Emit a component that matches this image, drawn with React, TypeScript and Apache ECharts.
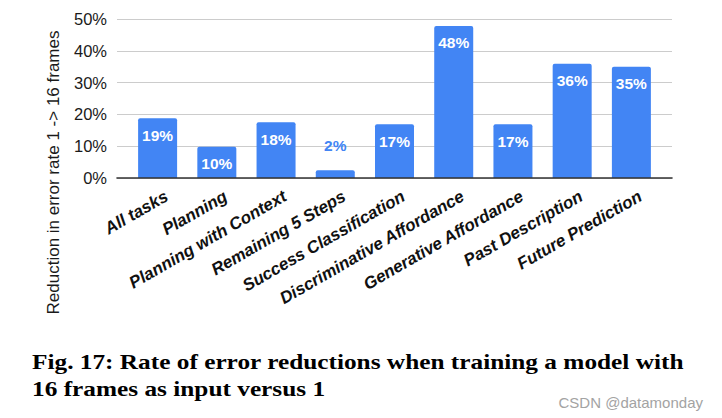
import React, { useEffect, useRef } from "react";
import * as echarts from "echarts";

const categories = [
  "All tasks",
  "Planning",
  "Planning with Context",
  "Remaining 5 Steps",
  "Success Classification",
  "Discriminative Affordance",
  "Generative Affordance",
  "Past Description",
  "Future Prediction",
];
const reductions = [18.8, 9.8, 17.5, 2.4, 16.9, 47.8, 16.9, 35.9, 35.0];
const yTicks = [0, 10, 20, 30, 40, 50];
const yTitle = "Reduction in error rate 1 -> 16 frames";
const captionLine1 = "Fig. 17: Rate of error reductions when training a model with";
const captionLine2 = "16 frames as input versus 1";
const watermark = "CSDN @datamonday";

const BLUE = "#4285F4";
const SANS = "'Liberation Sans', Arial, sans-serif";
const SERIF = "'Liberation Serif', 'Times New Roman', serif";

export default function App() {
  const ref = useRef<HTMLDivElement>(null);
  useEffect(() => {
    document.body.style.margin = "0";
    const chart = echarts.init(ref.current!, null, { renderer: "svg" });
    const yMin = yTicks[0];
    const yMax = yTicks[yTicks.length - 1];
    const yInt = yTicks[1] - yTicks[0];
    chart.setOption({
      animation: false,
      backgroundColor: "#ffffff",
      grid: [
        { left: 117, right: 50, top: 19, bottom: 240 },
        { left: 128, right: 61, top: 19, bottom: 240 },
        { left: 137, right: 52, top: 19, bottom: 240 },
      ],
      xAxis: [
        {
          type: "category",
          gridIndex: 0,
          data: [""],
          z: 5,
          axisLine: { show: true, lineStyle: { color: "#333333", width: 1.6 } },
          axisTick: { show: false },
          axisLabel: { show: false },
        },
        {
          type: "category",
          gridIndex: 1,
          data: categories,
          axisLine: { show: false },
          axisTick: { show: false },
          axisLabel: { show: false },
        },
        {
          type: "category",
          gridIndex: 2,
          data: categories,
          axisLine: { show: false },
          axisTick: { show: false },
          axisLabel: {
            rotate: 30,
            interval: 0,
            margin: 17,
            fontSize: 17,
            fontWeight: "bold",
            fontStyle: "italic",
            fontFamily: SANS,
            color: "#111111",
          },
        },
      ],
      yAxis: [
        {
          type: "value",
          gridIndex: 0,
          min: yMin,
          max: yMax,
          interval: yInt,
          axisLine: { show: false },
          axisTick: { show: false },
          axisLabel: {
            formatter: "{value}%",
            fontSize: 16.5,
            fontFamily: SANS,
            color: "#1a1a1a",
            margin: 10,
          },
          splitLine: { lineStyle: { color: "#cccccc", width: 1 } },
        },
        {
          type: "value",
          gridIndex: 1,
          min: yMin,
          max: yMax,
          interval: yInt,
          show: false,
          splitLine: { show: false },
        },
        {
          type: "value",
          gridIndex: 2,
          min: yMin,
          max: yMax,
          interval: yInt,
          show: false,
          splitLine: { show: false },
        },
      ],
      series: [
        {
          type: "bar",
          xAxisIndex: 1,
          yAxisIndex: 1,
          barWidth: 39,
          itemStyle: { color: BLUE, borderRadius: [2, 2, 0, 0] },
          data: reductions.map((v) => {
            const small = v < 5;
            return {
              value: v,
              label: {
                show: true,
                position: small ? "top" : "insideTop",
                distance: small ? 17 : 9,
                formatter: () => Math.round(v) + "%",
                color: small ? BLUE : "#ffffff",
                fontSize: 15.5,
                fontWeight: "bold",
                fontFamily: SANS,
              },
            };
          }),
        },
      ],
      graphic: [
        {
          type: "text",
          x: 53.5,
          y: 172.5,
          rotation: Math.PI / 2,
          style: {
            text: yTitle,
            fontSize: 17,
            fontFamily: SANS,
            fill: "#1a1a1a",
            align: "center",
            verticalAlign: "middle",
          },
        },
        {
          type: "text",
          x: 32,
          y: 362,
          scaleX: 1.205,
          style: {
            text: captionLine1,
            fontSize: 21,
            fontWeight: "bold",
            fontFamily: SERIF,
            fill: "#000000",
            align: "left",
            verticalAlign: "middle",
          },
        },
        {
          type: "text",
          x: 32,
          y: 389,
          scaleX: 1.205,
          style: {
            text: captionLine2,
            fontSize: 21,
            fontWeight: "bold",
            fontFamily: SERIF,
            fill: "#000000",
            align: "left",
            verticalAlign: "middle",
          },
        },
        {
          type: "text",
          x: 703,
          y: 402,
          style: {
            text: watermark,
            fontSize: 15,
            fontFamily: SANS,
            fill: "#a3a3a3",
            align: "right",
            verticalAlign: "middle",
          },
        },
      ],
    });
    return () => chart.dispose();
  }, []);
  return <div ref={ref} style={{ width: 722, height: 418 }} />;
}
